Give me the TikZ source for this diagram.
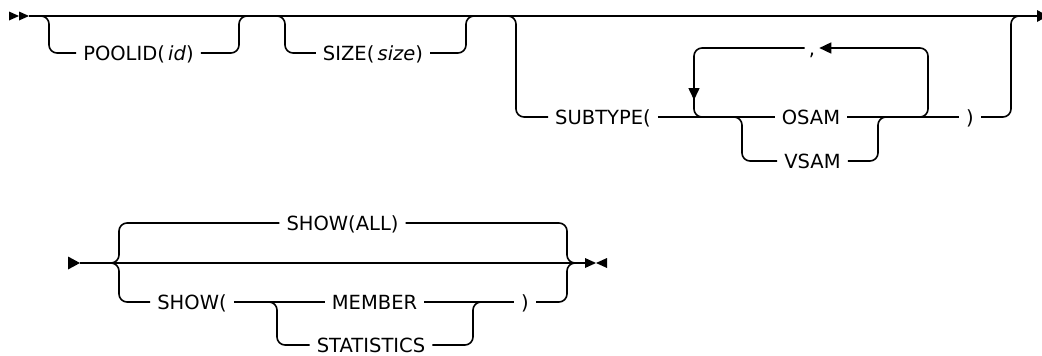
\documentclass[tikz,border=0pt]{standalone}
\usepackage{fontspec}
\setmainfont{DejaVu Sans}
\usetikzlibrary{arrows.meta}

\begin{document}
\begin{tikzpicture}[
        x=1pt, y=-1pt,
        rail/.style={line width=1.6pt, rounded corners=8pt},
        kw/.style={inner xsep=7pt, inner ysep=0pt, text height=14pt, text depth=0pt, font=\fontsize{19.5}{21}\selectfont},
        looptip/.style={-{Triangle[width=11pt,length=12pt]}}
    ]
    \useasboundingbox (0,0) rectangle (1042,356);

    % Nodes
    \node[kw] (poolid) at (138.5,53) {POOLID(\,\textit{id})};
    \node[kw] (size) at (373,53) {SIZE(\,\textit{size})};
    \node[kw] (subtype) at (603,117) {SUBTYPE(};
    \node[kw] (osam) at (811,117) {OSAM};
    \node[kw] (vsam) at (812.5,161) {VSAM};
    \node[kw, inner xsep=4pt] (comma) at (812,48) {,};
    \node[kw] (rparen) at (970,117) {)};

    \node[kw] (showall) at (342.5,223) {SHOW(ALL)};
    \node[kw] (show) at (192,302) {SHOW(};
    \node[kw] (member) at (374.5,302) {MEMBER};
    \node[kw] (stats) at (371,345) {STATISTICS};
    \node[kw] (rparenb) at (525,302) {)};

    \coordinate (top in) at (29,16);
    \coordinate (top out) at (1037,16);
    \coordinate (bot in) at (80,263);
    \coordinate (bot out) at (585,263);

    % Start and end marks
    \fill (9,11.5) -- (19,16) -- (9,20.5) -- cycle;
    \fill (19,11.5) -- (29,16) -- (19,20.5) -- cycle;
    \fill (1037,10) -- (1048,16) -- (1037,22) -- cycle;
    \fill (68,256.5) -- (80,263) -- (68,269.5) -- cycle;
    \fill (585,258) -- (596,263) -- (585,268) -- cycle;
    \fill (607,258) -- (596,263) -- (607,268) -- cycle;

    % Top rail
    \draw[rail] (top in) -- (top out);
    \draw[rail] (poolid.west) -| (49,16) -- (40,16);
    \draw[rail] (poolid.east) -| (239,16) -- (248,16);
    \draw[rail] (size.west) -| (285,16) -- (276,16);
    \draw[rail] (size.east) -| (466,16) -- (475,16);
    \draw[rail] (subtype.west) -| (516,16) -- (507,16);
    \draw[rail] (rparen.east) -| (1011,16) -- (1020,16);
    \draw[rail] (subtype.east) -- (osam.west);
    \draw[rail] (osam.east) -- (rparen.west);
    \draw[rail] (vsam.west) -| (742,117) -- (733,117);
    \draw[rail] (vsam.east) -| (878,117) -- (887,117);

    % Repeat loop
    \draw[rail, looptip] (913,117) -| (928,48) -- (comma.east);
    \draw[rail, looptip] (comma.west) -| (694,100);
    \draw[rail] (694,90) |- (713,117);

    % Bottom rail
    \draw[rail] (bot in) -- (bot out);
    \draw[rail] (showall.west) -| (119,263) -- (110,263);
    \draw[rail] (show.west) -| (119,263) -- (110,263);
    \draw[rail] (showall.east) -| (567,263) -- (576,263);
    \draw[rail] (rparenb.east) -| (567,263) -- (576,263);
    \draw[rail] (show.east) -- (member.west);
    \draw[rail] (member.east) -- (rparenb.west);
    \draw[rail] (stats.west) -| (277,302) -- (268,302);
    \draw[rail] (stats.east) -| (473,302) -- (482,302);

\end{tikzpicture}
\end{document}
